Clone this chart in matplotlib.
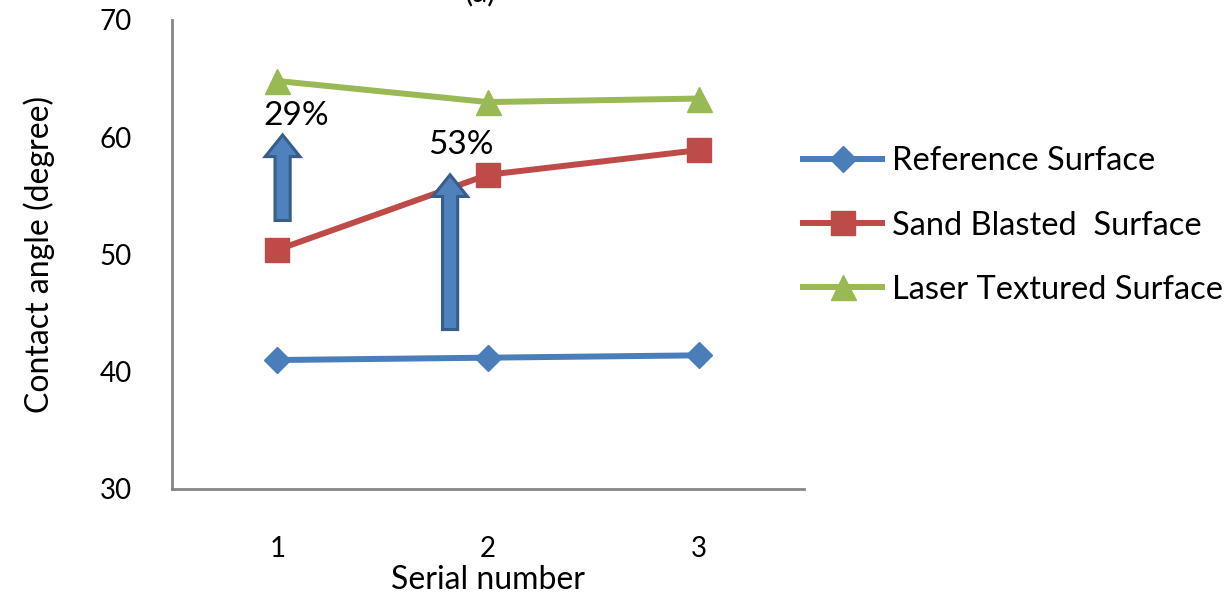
import matplotlib
matplotlib.use("Agg")
import matplotlib.pyplot as plt
from matplotlib.patches import FancyArrow

plt.rcParams['font.family'] = ['Lato', 'DejaVu Sans']

serial = [1, 2, 3]
reference = [41.0, 41.2, 41.4]
sand_blasted = [50.4, 56.8, 58.9]
laser_textured = [64.8, 63.0, 63.3]

series_names = ["Reference Surface", "Sand Blasted  Surface", "Laser Textured Surface"]
y_ticks = [30, 40, 50, 60, 70]

# increase arrows: (x, start, end, label, label_x, label_y)
arrow_x = [1.025, 1.82]
arrow_start = [52.9, 43.6]
arrow_end = [60.2, 56.8]
arrow_labels = ["29%", "53%"]
label_x = [1.09, 1.87]
label_y = [61.8, 59.3]

fig = plt.figure(figsize=(12.24, 5.96), dpi=100)
ax = fig.add_axes([172 / 1224, 1 - 489 / 596, 632 / 1224, 469 / 596])

blue, red, green = "#4A7EBB", "#BE4B48", "#98B954"
ax.plot(serial, reference, color=blue, lw=4.3, marker="D", ms=13,
        mec=blue, mfc=blue, label=series_names[0], zorder=3)
ax.plot(serial, sand_blasted, color=red, lw=4.3, marker="s", ms=17,
        mec=red, mfc=red, label=series_names[1], zorder=3)
ax.plot(serial, laser_textured, color=green, lw=4.3, marker="^", ms=18,
        mec=green, mfc=green, label=series_names[2], zorder=3)

for x, y0, y1, txt, tx, ty in zip(arrow_x, arrow_start, arrow_end,
                                  arrow_labels, label_x, label_y):
    ax.add_patch(FancyArrow(x, y0, 0, y1 - y0, width=0.072, head_width=0.165,
                            head_length=1.85, length_includes_head=True,
                            facecolor="#4F81BD", edgecolor="#385D8A",
                            linewidth=2.2, zorder=4))
    ax.text(tx, ty, txt, fontsize=24, ha="center", va="center", zorder=5)

ax.set_xlim(0.5, 3.5)
ax.set_ylim(30, 70)
ax.set_xticks(serial)
ax.set_yticks(y_ticks)
ax.tick_params(length=0, labelsize=20)
ax.tick_params(axis="x", pad=34)
ax.tick_params(axis="y", pad=29)
for side in ("top", "right"):
    ax.spines[side].set_visible(False)
for side in ("left", "bottom"):
    ax.spines[side].set_color("#868686")
    ax.spines[side].set_linewidth(2)

ax.set_xlabel("Serial number", fontsize=23, labelpad=2)
ax.set_ylabel("Contact angle (degree)", fontsize=23, labelpad=32)

fig.text(480 / 1224, 1 + 22 / 596, "(a)", fontsize=22, ha="center", va="top")

leg = fig.legend(loc="upper left", bbox_to_anchor=(774 / 1224, 1 - 117 / 596),
                 frameon=False, fontsize=23.5, handlelength=2.4,
                 labelspacing=1.05, handletextpad=0.3, markerscale=1.0)

fig.savefig("out.png", dpi=100)
